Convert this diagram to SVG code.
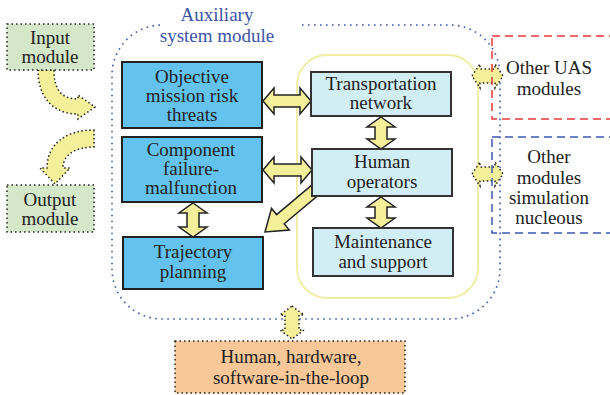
<svg xmlns="http://www.w3.org/2000/svg" width="610" height="395" viewBox="0 0 610 395">
  <style>
    text { font-family: "Liberation Serif", "DejaVu Serif", "Times New Roman", serif; font-size: 19px; fill: #222; text-anchor: middle; }
    .title { fill: #3a55a8; }
    .dark { fill: #63c3ee; stroke: #222; stroke-width: 2; }
    .light { fill: #d1eef4; stroke: #333; stroke-width: 2; }
    .dotbox { stroke: #222; stroke-width: 1.5; stroke-dasharray: 1.5 3; }
    .arrow { fill: #f4f09a; stroke: #222; stroke-width: 1.5; stroke-linejoin: miter; }
    .darrow { fill: #f4f09a; stroke: #222; stroke-width: 1.5; stroke-dasharray: 1.5 2.5; }
  </style>

  <rect width="610" height="395" fill="#ffffff"/>

  <!-- auxiliary system module frame (gap at top for its label) -->
  <path d="M302,25 L450,25 A50,50 0 0 1 500,75 L500,269 A50,50 0 0 1 450,319 L162,319 A50,50 0 0 1 112,269 L112,75 A50,50 0 0 1 162,25"
        fill="none" stroke="#3b58b0" stroke-width="1.6" stroke-dasharray="1.6 4.4"/>
  <g id="aux-label">
    <text class="title" x="217" y="21">Auxiliary</text>
    <text class="title" x="217" y="42">system module</text>
  </g>

  <!-- human-side container -->
  <rect x="297" y="55" width="181" height="243" rx="30" fill="none" stroke="#f0eca0" stroke-width="1.8"/>

  <!-- connectors -->
  <g id="connectors">
    <!-- input / output flow -->
    <path class="darrow" d="M38,70 L54,70 C54,88 60,99 78,99 L78,95 L95,107 L78,119 L78,114 C52,114 38,96 38,70 Z"/>
    <path class="darrow" d="M94,130 L94,147 C75,147 63,155 63,168 L70,168 L55,184 L40,168 L47,168 C47,145 65,130 94,130 Z"/>
    <!-- internal links -->
    <path class="arrow" d="M263,101 L274,88 L274,95 L300,95 L300,88 L311,101 L300,114 L300,107 L274,107 L274,114 Z"/>
    <path class="arrow" d="M263,170 L274,157 L274,164 L301,164 L301,157 L312,170 L301,183 L301,176 L274,176 L274,183 Z"/>
    <path class="arrow" d="M381,117 L395,127 L387,127 L387,139 L395,139 L381,149 L367,139 L375,139 L375,127 L367,127 Z"/>
    <path class="arrow" d="M381,197 L395,207 L387,207 L387,218 L395,218 L381,228 L367,218 L375,218 L375,207 L367,207 Z"/>
    <path class="arrow" d="M193,203 L207,213 L199,213 L199,227 L207,227 L193,237 L179,227 L187,227 L187,213 L179,213 Z"/>
    <path class="arrow" d="M323.8,190.6 L284.2,223.8 L289.3,230 L265,232 L271.5,208.4 L276.6,214.6 L316.2,181.4 Z"/>
    <!-- external links -->
    <path class="darrow" d="M472,76 L480,64 L480,69 L495,69 L495,64 L503,76 L495,88 L495,83 L480,83 L480,88 Z"/>
    <path class="darrow" d="M472,174 L480,162 L480,167 L495,167 L495,162 L503,174 L495,186 L495,181 L480,181 L480,186 Z"/>
    <path class="darrow" d="M292,306 L304,315 L299,315 L299,330 L304,330 L292,339 L280,330 L285,330 L285,315 L280,315 Z"/>
  </g>

  <g id="input-module">
    <rect class="dotbox" x="7" y="24" width="87" height="46" fill="#d4e7c8"/>
    <text x="50" y="44">Input</text>
    <text x="50" y="63">module</text>
  </g>
  <g id="output-module">
    <rect class="dotbox" x="7" y="185" width="87" height="47" fill="#d4e7c8"/>
    <text x="50" y="206">Output</text>
    <text x="50" y="225">module</text>
  </g>

  <g id="objective-risk">
    <rect class="dark" x="122" y="62" width="140" height="66"/>
    <text x="192" y="83">Objective</text>
    <text x="192" y="102">mission risk</text>
    <text x="192" y="121">threats</text>
  </g>
  <g id="component-failure">
    <rect class="dark" x="122" y="137" width="140" height="65"/>
    <text x="191" y="156">Component</text>
    <text x="191" y="175">failure-</text>
    <text x="191" y="194">malfunction</text>
  </g>
  <g id="trajectory-planning">
    <rect class="dark" x="123" y="237" width="140" height="52"/>
    <text x="193" y="258">Trajectory</text>
    <text x="193" y="278">planning</text>
  </g>

  <g id="transportation-network">
    <rect class="light" x="311" y="72" width="140" height="44"/>
    <text x="381" y="90">Transportation</text>
    <text x="381" y="109">network</text>
  </g>
  <g id="human-operators">
    <rect class="light" x="312" y="149" width="140" height="47"/>
    <text x="382" y="168">Human</text>
    <text x="382" y="188">operators</text>
  </g>
  <g id="maintenance-support">
    <rect class="light" x="313" y="228" width="140" height="48"/>
    <text x="383" y="248">Maintenance</text>
    <text x="383" y="268">and support</text>
  </g>

  <g id="other-uas">
    <rect x="492" y="36" width="130" height="83" fill="none" stroke="#e8393a" stroke-width="1.5" stroke-dasharray="8 5"/>
    <text x="549" y="74">Other UAS</text>
    <text x="549" y="95">modules</text>
  </g>
  <g id="other-simulation">
    <rect x="492" y="137" width="130" height="96" fill="none" stroke="#3b58b0" stroke-width="1.5" stroke-dasharray="8 5"/>
    <text x="549" y="163">Other</text>
    <text x="549" y="184">modules</text>
    <text x="549" y="204">simulation</text>
    <text x="549" y="224">nucleous</text>
  </g>

  <g id="in-the-loop">
    <rect class="dotbox" x="175" y="341" width="230" height="52" fill="#f9c899"/>
    <text x="291" y="363">Human, hardware,</text>
    <text x="291" y="384">software-in-the-loop</text>
  </g>
</svg>
